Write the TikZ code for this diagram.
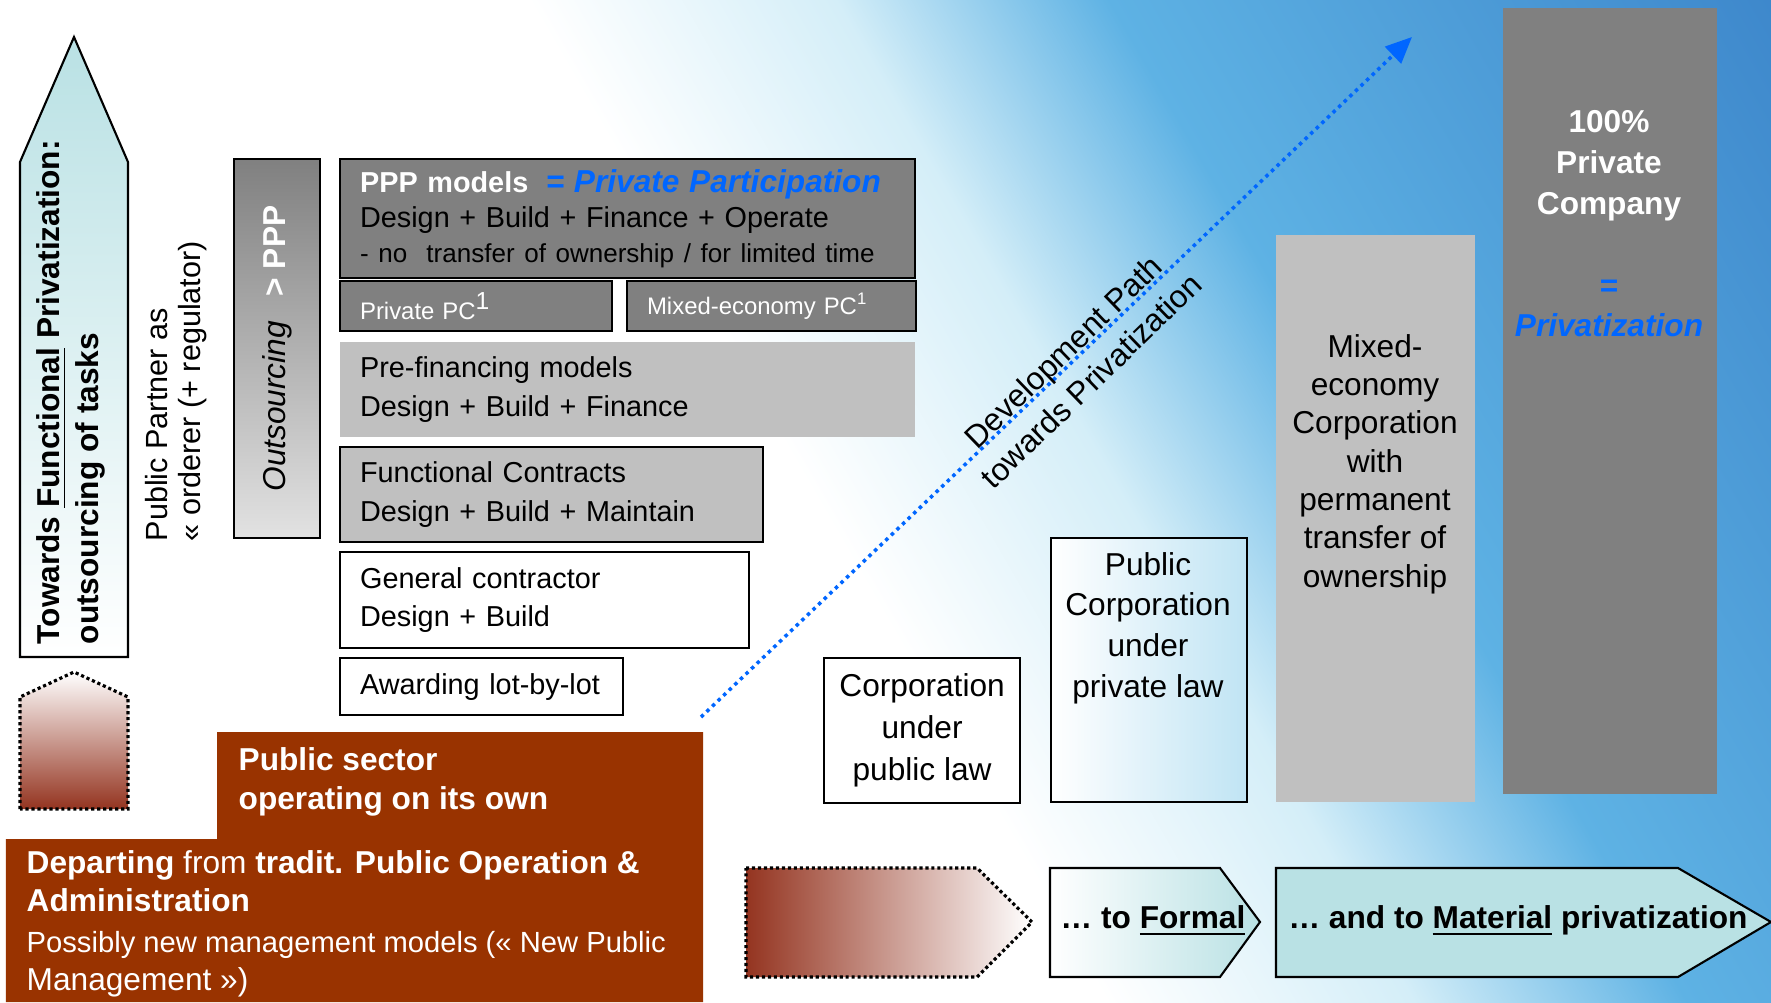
\documentclass[tikz,border=0pt]{standalone}
\usepackage{fontspec}
\setmainfont{Liberation Sans}
\usepackage{tikz}
\usetikzlibrary{arrows.meta,calc}
\usepackage{xcolor}
\definecolor{BoxGray}{HTML}{808080}
\definecolor{BoxSilver}{HTML}{C0C0C0}
\definecolor{OutsourceLight}{HTML}{E2E2E2}
\definecolor{PublicBrown}{HTML}{993300}
\definecolor{FadeBrown}{HTML}{943420}
\definecolor{PathBlue}{HTML}{0066FF}
\definecolor{ArrowCyan}{HTML}{B9E1E4}
\definecolor{CorpBlue}{HTML}{C0E4F4}
\definecolor{SkyLight}{HTML}{D4EEF8}
\definecolor{SkyMid}{HTML}{5EB2E4}
\definecolor{SkyDeep}{HTML}{2466B8}
\pgfdeclarehorizontalshading{SkyShade}{100bp}{color(0bp)=(white); color(48bp)=(white); color(57bp)=(SkyLight); color(65bp)=(SkyMid); color(100bp)=(SkyDeep)}

\begin{document}
\begin{tikzpicture}[x=0.01cm, y=-0.01cm,
    box/.style={draw=black, semithick, anchor=north west, inner xsep=0.2cm, inner ysep=0pt, align=left},
    boxFont/.style={font=\fontsize{8.2pt}{10.9pt}\selectfont},
    smallFont/.style={font=\fontsize{6.8pt}{8pt}\selectfont},
    bigFont/.style={font=\fontsize{9pt}{#1}\selectfont},
    dotLine/.style={draw=black, line width=0.9pt, dash pattern=on 0.9pt off 0.8pt},
    chevron/.style={draw=black, semithick}]
    \useasboundingbox (0,0) rectangle (1771,1002);
    \shade[shading=SkyShade, shading angle=30] (0,0) rectangle (1771,1002);

    \draw[semithick, top color=ArrowCyan, bottom color=white] (20,657) -- (20,162) -- (74,37) -- (128,162) -- (128,657) -- cycle;
    \node[rotate=90, anchor=west, align=left, inner sep=0pt, font=\bfseries\fontsize{9pt}{11.2pt}\selectfont] (towardsText) at (71,645) {Towards \underline{Functional} Privatization:\\outsourcing of tasks};
    \draw[dotLine, top color=white, bottom color=FadeBrown] (20,809) -- (20,697) -- (74,672) -- (128,697) -- (128,809) -- cycle;
    \node[rotate=90, anchor=west, align=left, inner sep=0pt, font=\fontsize{8.7pt}{9.6pt}\selectfont] (partnerText) at (176,542) {Public Partner as\\« orderer (+ regulator)};

    \node[draw=black, semithick, top color=BoxGray, bottom color=OutsourceLight, anchor=north west, minimum width=0.86cm, minimum height=3.79cm, inner sep=0pt] (outsourcing) at (233,158) {};
    \node[rotate=90, inner sep=0pt, font=\fontsize{9pt}{11pt}\selectfont] (outsourcingText) at (outsourcing.center) {\textit{Outsourcing}\hspace{7pt}{\color{white}\bfseries > PPP}};

    \node[box, font=\fontsize{8.2pt}{10pt}\selectfont, fill=BoxGray, text width=5.35cm, minimum height=1.19cm] (pppBox) at (339,158)
        {{\color{white}\bfseries PPP models}\hspace{5pt}{\fontsize{9pt}{10pt}\selectfont\color{PathBlue}\bfseries\itshape = Private Participation}\\
        Design + Build + Finance + Operate\\
        {\fontsize{7.4pt}{9pt}\selectfont - no\ \ transfer of ownership / for limited time}};
    \node[box, smallFont, fill=BoxGray, text=white, text width=2.32cm, minimum height=0.5cm] (privatePC) at (339,280) {Private PC\textsuperscript{\fontsize{7pt}{8pt}\selectfont 1}};
    \node[box, smallFont, fill=BoxGray, text=white, text width=2.49cm, minimum height=0.5cm] (mixedPC) at (626,280) {Mixed-economy PC\textsuperscript{1}};
    \node[box, boxFont, draw=none, fill=BoxSilver, text width=5.35cm, minimum height=0.95cm] (preFinance) at (339,341) {Pre-financing models\\Design + Build + Finance};
    \node[box, boxFont, fill=BoxSilver, text width=3.83cm, minimum height=0.95cm] (functional) at (339,446) {Functional Contracts\\Design + Build + Maintain};
    \node[box, boxFont, fill=white, text width=3.69cm, minimum height=0.96cm] (general) at (339,551) {General contractor\\Design + Build};
    \node[box, boxFont, fill=white, text width=2.43cm, minimum height=0.57cm] (awarding) at (339,657) {Awarding lot-by-lot};

    \fill[PublicBrown] (217,732) -- (703,732) -- (703,1002) -- (6,1002) -- (6,839) -- (217,839) -- cycle;
    \node[anchor=west, align=left, inner sep=0pt, text=white, font=\bfseries\fontsize{9pt}{11.2pt}\selectfont] (publicSector) at (238,782) {Public sector\\operating on its own};
    \node[anchor=west, align=left, inner sep=0pt, text=white, font=\fontsize{9pt}{10.8pt}\selectfont] (departing) at (26,924)
        {\textbf{Departing} from \textbf{tradit. Public Operation \&}\\\textbf{Administration}\\[0.8pt]
        \fontsize{8.3pt}{9.7pt}\selectfont Possibly new management models (« New Public\\Management »)};

    \node[draw=black, semithick, fill=white, anchor=north west, minimum width=1.96cm, minimum height=1.45cm, align=center, inner sep=0pt, bigFont=12pt] (publicLaw) at (823,657) {Corporation\\under\\public law};
    \node[draw=black, semithick, left color=white, right color=CorpBlue, anchor=north west, minimum width=1.96cm, minimum height=2.64cm, inner sep=0pt] (privateLawBox) at (1050,537) {};
    \node[align=center, inner sep=0pt, bigFont=11.6pt] (privateLaw) at (1148,628) {Public\\Corporation\\under\\private law};
    \node[fill=BoxSilver, anchor=north west, minimum width=1.99cm, minimum height=5.67cm, inner sep=0pt] (mixedBox) at (1275,234) {};
    \node[align=center, inner sep=0pt, bigFont=10.9pt] (mixedText) at (1375,464) {Mixed-\\economy\\Corporation\\with\\permanent\\transfer of\\ownership};
    \node[fill=BoxGray, anchor=north west, minimum width=2.14cm, minimum height=7.86cm, inner sep=0pt] (privateBox) at (1502,7) {};
    \node[align=center, inner sep=0pt, text=white, font=\bfseries\fontsize{9pt}{11.6pt}\selectfont] (privateText) at (1609,224)
        {100\%\\Private\\Company\\[11.6pt]{\color{PathBlue}=}\\{\color{PathBlue}\itshape Privatization}};

    \draw[dotLine, left color=FadeBrown, right color=white] (746,868) -- (977,868) -- (1032,922) -- (977,977) -- (746,977) -- cycle;
    \draw[chevron, left color=white, right color=ArrowCyan] (1050,868) -- (1220,868) -- (1260,922) -- (1220,977) -- (1050,977) -- cycle;
    \node[inner sep=0pt, font=\bfseries\fontsize{9pt}{11pt}\selectfont] (formalText) at (1153,921) {… to \underline{Formal}};
    \draw[chevron, fill=ArrowCyan] (1276,868) -- (1678,868) -- (1771,922) -- (1678,977) -- (1276,977) -- cycle;
    \node[inner sep=0pt, font=\bfseries\fontsize{9pt}{11pt}\selectfont] (materialText) at (1518,921) {… and to \underline{Material} privatization};

    \coordinate (pathStart) at (701,717);
    \coordinate (pathEnd) at (1412,37);
    \draw[PathBlue, line width=1pt, dash pattern=on 1pt off 1.2pt, -{Triangle[length=7.5pt,width=6.5pt]}] (pathStart) -- (pathEnd);
    \node[rotate=44, align=center, inner sep=0pt, font=\fontsize{9pt}{11.5pt}\selectfont] (pathLabel) at (1077,366) {Development Path\\towards Privatization};
\end{tikzpicture}
\end{document}
